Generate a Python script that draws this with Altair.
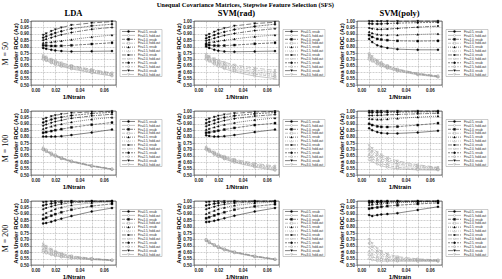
import altair as alt
import pandas as pd

# ---------------- data ----------------
x_vals = [0.01, 0.0125, 0.0167, 0.02, 0.025, 0.0333, 0.05, 0.0667]
ftr_levels = ["0.5", "1.0", "1.5", "2.0", "2.5", "3.0"]
methods = ["LDA", "SVM(rad)", "SVM(poly)"]
m_values = ["M = 50", "M = 100", "M = 200"]
x_ticks = [0.00, 0.01, 0.02, 0.03, 0.04, 0.05, 0.06, 0.07]
y_ticks = [0.50, 0.55, 0.60, 0.65, 0.70, 0.75, 0.80, 0.85, 0.90, 0.95, 1.00]

# M = 50
lda50_resub = [
    [0.790, 0.783, 0.775, 0.770, 0.765, 0.762, 0.763, 0.765],
    [0.810, 0.808, 0.805, 0.805, 0.806, 0.810, 0.820, 0.830],
    [0.830, 0.832, 0.835, 0.840, 0.845, 0.855, 0.875, 0.890],
    [0.850, 0.858, 0.870, 0.880, 0.892, 0.910, 0.935, 0.950],
    [0.870, 0.880, 0.895, 0.907, 0.920, 0.940, 0.962, 0.975],
    [0.890, 0.902, 0.920, 0.933, 0.948, 0.968, 0.985, 0.995],
]
lda50_hold = [
    [0.700, 0.690, 0.672, 0.660, 0.645, 0.625, 0.595, 0.570],
    [0.706, 0.696, 0.678, 0.666, 0.651, 0.631, 0.601, 0.576],
    [0.712, 0.702, 0.684, 0.672, 0.657, 0.637, 0.607, 0.582],
    [0.718, 0.708, 0.690, 0.678, 0.662, 0.642, 0.612, 0.587],
    [0.724, 0.714, 0.696, 0.684, 0.668, 0.648, 0.617, 0.591],
    [0.730, 0.720, 0.702, 0.690, 0.674, 0.653, 0.622, 0.595],
]
rad50_resub = [
    [0.800, 0.790, 0.775, 0.768, 0.762, 0.760, 0.762, 0.765],
    [0.815, 0.812, 0.808, 0.807, 0.808, 0.812, 0.822, 0.830],
    [0.830, 0.833, 0.838, 0.843, 0.850, 0.860, 0.878, 0.890],
    [0.845, 0.853, 0.865, 0.875, 0.887, 0.903, 0.925, 0.940],
    [0.865, 0.875, 0.890, 0.902, 0.915, 0.933, 0.958, 0.975],
    [0.885, 0.897, 0.915, 0.928, 0.943, 0.962, 0.980, 0.990],
]
rad50_hold = [
    [0.700, 0.685, 0.662, 0.646, 0.627, 0.602, 0.570, 0.550],
    [0.708, 0.694, 0.672, 0.656, 0.638, 0.614, 0.584, 0.565],
    [0.715, 0.701, 0.680, 0.665, 0.647, 0.624, 0.594, 0.575],
    [0.722, 0.708, 0.688, 0.673, 0.656, 0.633, 0.604, 0.585],
    [0.730, 0.717, 0.697, 0.683, 0.667, 0.645, 0.618, 0.600],
    [0.738, 0.725, 0.706, 0.693, 0.678, 0.657, 0.632, 0.615],
]
poly50_resub = [
    [0.860, 0.835, 0.810, 0.800, 0.790, 0.780, 0.775, 0.775],
    [0.890, 0.875, 0.860, 0.855, 0.850, 0.845, 0.843, 0.845],
    [0.915, 0.905, 0.895, 0.892, 0.890, 0.890, 0.895, 0.900],
    [0.945, 0.940, 0.935, 0.935, 0.937, 0.942, 0.952, 0.960],
    [0.980, 0.978, 0.977, 0.978, 0.980, 0.983, 0.987, 0.990],
    [0.998, 0.997, 0.997, 0.997, 0.998, 0.998, 0.999, 0.999],
]
poly50_hold = [
    [0.700, 0.685, 0.662, 0.648, 0.630, 0.607, 0.580, 0.562],
    [0.710, 0.694, 0.670, 0.655, 0.636, 0.612, 0.583, 0.564],
    [0.718, 0.701, 0.676, 0.660, 0.640, 0.615, 0.585, 0.566],
    [0.726, 0.708, 0.682, 0.665, 0.645, 0.619, 0.588, 0.568],
    [0.735, 0.716, 0.688, 0.670, 0.649, 0.622, 0.590, 0.570],
    [0.745, 0.724, 0.694, 0.675, 0.653, 0.625, 0.592, 0.572],
]

# M = 100
lda100_resub = [
    [0.800, 0.800, 0.800, 0.800, 0.803, 0.812, 0.832, 0.855],
    [0.830, 0.835, 0.843, 0.850, 0.858, 0.872, 0.893, 0.910],
    [0.860, 0.868, 0.880, 0.888, 0.898, 0.913, 0.935, 0.950],
    [0.885, 0.895, 0.908, 0.917, 0.928, 0.943, 0.962, 0.975],
    [0.910, 0.920, 0.933, 0.942, 0.952, 0.965, 0.980, 0.990],
    [0.935, 0.945, 0.958, 0.966, 0.975, 0.985, 0.993, 0.998],
]
lda100_hold = [
    [0.698, 0.684, 0.660, 0.646, 0.627, 0.602, 0.568, 0.543],
    [0.700, 0.686, 0.662, 0.648, 0.629, 0.604, 0.569, 0.544],
    [0.703, 0.688, 0.664, 0.650, 0.631, 0.606, 0.571, 0.545],
    [0.706, 0.691, 0.667, 0.652, 0.633, 0.607, 0.572, 0.546],
    [0.709, 0.694, 0.670, 0.655, 0.635, 0.609, 0.573, 0.547],
    [0.712, 0.697, 0.673, 0.658, 0.637, 0.611, 0.575, 0.548],
]
rad100_resub = [
    [0.810, 0.805, 0.800, 0.800, 0.803, 0.812, 0.835, 0.855],
    [0.830, 0.833, 0.840, 0.846, 0.855, 0.868, 0.890, 0.905],
    [0.855, 0.862, 0.873, 0.882, 0.893, 0.908, 0.930, 0.945],
    [0.880, 0.890, 0.903, 0.913, 0.925, 0.940, 0.960, 0.972],
    [0.905, 0.915, 0.928, 0.938, 0.950, 0.963, 0.978, 0.988],
    [0.930, 0.940, 0.953, 0.962, 0.972, 0.982, 0.992, 0.997],
]
rad100_hold = [
    [0.700, 0.684, 0.660, 0.644, 0.624, 0.598, 0.562, 0.535],
    [0.703, 0.688, 0.664, 0.648, 0.629, 0.603, 0.568, 0.543],
    [0.706, 0.691, 0.667, 0.652, 0.633, 0.607, 0.573, 0.549],
    [0.709, 0.694, 0.671, 0.656, 0.637, 0.612, 0.578, 0.555],
    [0.713, 0.698, 0.675, 0.660, 0.641, 0.617, 0.584, 0.561],
    [0.717, 0.702, 0.680, 0.665, 0.647, 0.623, 0.591, 0.570],
]
poly100_resub = [
    [0.865, 0.850, 0.835, 0.828, 0.825, 0.825, 0.832, 0.845],
    [0.900, 0.890, 0.880, 0.876, 0.875, 0.878, 0.890, 0.905],
    [0.940, 0.937, 0.935, 0.935, 0.937, 0.942, 0.952, 0.960],
    [0.965, 0.965, 0.966, 0.967, 0.970, 0.973, 0.978, 0.982],
    [0.988, 0.988, 0.988, 0.989, 0.990, 0.991, 0.993, 0.994],
    [0.999, 0.999, 0.999, 0.999, 0.999, 0.999, 1.000, 1.000],
]
poly100_hold = [
    [0.620, 0.605, 0.585, 0.572, 0.560, 0.548, 0.540, 0.538],
    [0.645, 0.628, 0.605, 0.590, 0.575, 0.560, 0.548, 0.543],
    [0.665, 0.648, 0.625, 0.610, 0.592, 0.574, 0.557, 0.548],
    [0.685, 0.668, 0.643, 0.627, 0.608, 0.586, 0.564, 0.552],
    [0.705, 0.687, 0.660, 0.643, 0.622, 0.598, 0.572, 0.556],
    [0.730, 0.708, 0.678, 0.659, 0.636, 0.610, 0.580, 0.560],
]

# M = 200
lda200_resub = [
    [0.825, 0.828, 0.838, 0.848, 0.862, 0.882, 0.918, 0.945],
    [0.860, 0.870, 0.885, 0.897, 0.912, 0.932, 0.960, 0.978],
    [0.895, 0.908, 0.925, 0.937, 0.950, 0.967, 0.985, 0.993],
    [0.935, 0.945, 0.958, 0.967, 0.976, 0.986, 0.994, 0.998],
    [0.965, 0.972, 0.980, 0.985, 0.990, 0.995, 0.998, 0.999],
    [0.990, 0.993, 0.996, 0.997, 0.998, 0.999, 1.000, 1.000],
]
lda200_hold = [
    [0.600, 0.592, 0.580, 0.572, 0.562, 0.552, 0.542, 0.535],
    [0.612, 0.602, 0.588, 0.579, 0.568, 0.556, 0.544, 0.536],
    [0.625, 0.613, 0.597, 0.586, 0.574, 0.560, 0.546, 0.537],
    [0.638, 0.624, 0.606, 0.594, 0.580, 0.564, 0.548, 0.538],
    [0.650, 0.635, 0.615, 0.601, 0.586, 0.568, 0.550, 0.539],
    [0.665, 0.647, 0.624, 0.608, 0.592, 0.572, 0.552, 0.540],
]
rad200_resub = [
    [0.835, 0.838, 0.845, 0.853, 0.865, 0.885, 0.918, 0.945],
    [0.865, 0.873, 0.887, 0.898, 0.912, 0.932, 0.958, 0.975],
    [0.900, 0.910, 0.925, 0.936, 0.948, 0.965, 0.983, 0.992],
    [0.935, 0.944, 0.956, 0.965, 0.974, 0.984, 0.993, 0.997],
    [0.965, 0.971, 0.979, 0.984, 0.989, 0.994, 0.998, 0.999],
    [0.990, 0.993, 0.995, 0.997, 0.998, 0.999, 1.000, 1.000],
]
rad200_hold = [
    [0.690, 0.673, 0.650, 0.635, 0.617, 0.595, 0.564, 0.542],
    [0.692, 0.675, 0.652, 0.637, 0.619, 0.597, 0.566, 0.543],
    [0.694, 0.677, 0.654, 0.639, 0.621, 0.599, 0.567, 0.544],
    [0.696, 0.679, 0.656, 0.641, 0.623, 0.601, 0.569, 0.545],
    [0.698, 0.681, 0.658, 0.643, 0.625, 0.602, 0.570, 0.546],
    [0.700, 0.683, 0.660, 0.645, 0.627, 0.604, 0.572, 0.547],
]
poly200_resub = [
    [0.890, 0.882, 0.890, 0.895, 0.898, 0.905, 0.930, 0.955],
    [0.940, 0.945, 0.950, 0.955, 0.960, 0.967, 0.977, 0.985],
    [0.970, 0.973, 0.977, 0.980, 0.983, 0.987, 0.991, 0.994],
    [0.985, 0.987, 0.989, 0.990, 0.992, 0.994, 0.996, 0.997],
    [0.993, 0.994, 0.995, 0.996, 0.997, 0.998, 0.998, 0.999],
    [0.999, 0.999, 0.999, 1.000, 1.000, 1.000, 1.000, 1.000],
]
poly200_hold = [
    [0.550, 0.540, 0.532, 0.530, 0.530, 0.530, 0.530, 0.530],
    [0.580, 0.565, 0.550, 0.543, 0.538, 0.534, 0.532, 0.531],
    [0.610, 0.590, 0.568, 0.557, 0.548, 0.540, 0.535, 0.533],
    [0.640, 0.615, 0.588, 0.573, 0.560, 0.548, 0.539, 0.535],
    [0.670, 0.642, 0.608, 0.590, 0.573, 0.556, 0.543, 0.537],
    [0.700, 0.668, 0.628, 0.607, 0.587, 0.565, 0.548, 0.540],
]

panels = [
    [(lda50_resub, lda50_hold), (rad50_resub, rad50_hold), (poly50_resub, poly50_hold)],
    [(lda100_resub, lda100_hold), (rad100_resub, rad100_hold), (poly100_resub, poly100_hold)],
    [(lda200_resub, lda200_hold), (rad200_resub, rad200_hold), (poly200_resub, poly200_hold)],
]

# ---------------- styles ----------------
labels, colors, dashes, shapes, fills = [], [], [], [], []
dash_list = [[1, 0], [3, 1], [1, 1], [4, 1, 1, 1], [2, 1], [5, 2]]
shape_list = ["circle", "square", "triangle-up", "diamond", "cross", "triangle-down"]
for i, f in enumerate(ftr_levels):
    for kind, col, fill in [("resub", "#000000", "#000000"), ("hold-out", "#8a8a8a", "#ffffff")]:
        labels.append(f"Ftr={f}, {kind}")
        colors.append(col)
        dashes.append(dash_list[i])
        shapes.append(shape_list[i])
        fills.append(fill)

W, H = 85, 64
LW, LH = 42, 47
SANS = "Liberation Sans"
SERIF = "Liberation Serif"


def sc(rng):
    return alt.Scale(domain=labels, range=rng)


def make_df(resub, hold):
    rows = []
    for i in range(6):
        for j, xv in enumerate(x_vals):
            rows.append({"x": xv, "auc": resub[i][j], "series": labels[2 * i]})
            rows.append({"x": xv, "auc": hold[i][j], "series": labels[2 * i + 1]})
    return pd.DataFrame(rows)


legend_df = pd.DataFrame({"series": labels})


def legend_chart():
    base = alt.Chart(legend_df)
    yl = alt.Y("series:N", sort=labels, axis=None,
               scale=alt.Scale(domain=labels, type="point", padding=0.5))
    rule = base.mark_rule(strokeWidth=0.5).encode(
        x=alt.value(2), x2=alt.value(15), y=yl,
        color=alt.Color("series:N", scale=sc(colors), legend=None),
        strokeDash=alt.StrokeDash("series:N", scale=sc(dashes), legend=None),
    )
    pt = base.mark_point(size=4, strokeWidth=0.4, opacity=1).encode(
        x=alt.value(8.5), y=yl,
        stroke=alt.Stroke("series:N", scale=sc(colors), legend=None),
        shape=alt.Shape("series:N", scale=sc(shapes), legend=None),
        fill=alt.Fill("series:N", scale=sc(fills), legend=None),
    )
    txt = base.mark_text(align="left", baseline="middle", fontSize=3, font=SANS,
                         color="#222").encode(x=alt.value(18), y=yl, text="series:N")
    return alt.layer(rule, pt, txt).properties(
        width=LW, height=LH, view=alt.ViewBackground(stroke="#999999", strokeWidth=0.5, fill="white"))


def plot(r, c):
    resub, hold = panels[r][c]
    df = make_df(resub, hold)
    base = alt.Chart(df)
    xenc = alt.X("x:Q", scale=alt.Scale(domain=[0, 0.07], nice=False),
                 axis=alt.Axis(values=x_ticks, format=".2f", title="1/Ntrain"))
    yenc = alt.Y("auc:Q", scale=alt.Scale(domain=[0.5, 1.0], nice=False, zero=False),
                 axis=alt.Axis(values=y_ticks, format=".2f", title="Area Under ROC (Az)"))
    line = base.mark_line(strokeWidth=0.5).encode(
        x=xenc, y=yenc,
        color=alt.Color("series:N", scale=sc(colors), legend=None),
        strokeDash=alt.StrokeDash("series:N", scale=sc(dashes), legend=None),
    )
    pts = base.mark_point(size=4, strokeWidth=0.4, opacity=1).encode(
        x=xenc, y=yenc,
        stroke=alt.Stroke("series:N", scale=sc(colors), legend=None),
        shape=alt.Shape("series:N", scale=sc(shapes), legend=None),
        fill=alt.Fill("series:N", scale=sc(fills), legend=None),
    )
    ch = alt.layer(line, pts).properties(width=W, height=H)
    if r == 0:
        ch = ch.properties(title=alt.TitleParams(methods[c], font=SERIF, fontSize=8.5,
                                                 fontWeight="bold", offset=1))
    return ch


def panel(r, c):
    return alt.hconcat(plot(r, c), legend_chart(), spacing=4, center=True, bounds="flush")


rows = []
for r in range(3):
    row = alt.hconcat(*[panel(r, c) for c in range(3)], spacing=12).properties(
        title=alt.TitleParams(m_values[r], orient="left", font=SERIF, fontSize=8,
                              fontWeight="normal", offset=2, frame="bounds", anchor="middle"))
    rows.append(row)

chart = alt.vconcat(*rows, spacing=7).properties(
    title=alt.TitleParams("Unequal Covariance Matrices, Stepwise Feature Selection (SFS)",
                          font=SERIF, fontSize=6.5, fontWeight="bold", anchor="middle", offset=0),
    padding={"left": 2, "top": 1, "right": 2, "bottom": 1},
).configure_view(stroke="black", strokeWidth=0.6).configure_axis(
    labelFont=SANS, labelFontSize=4.5, labelFontWeight="bold", labelColor="#222",
    titleFont=SANS, titleFontSize=6, titleFontWeight="bold", titleColor="#000",
    gridColor="#888888", gridDash=[2, 1], gridWidth=0.4, tickSize=2, tickWidth=0.4,
    tickColor="#333", domain=False, labelPadding=0.5, titlePadding=1,
)

chart.save("out.html", embed_options={"renderer": "svg", "actions": False})
